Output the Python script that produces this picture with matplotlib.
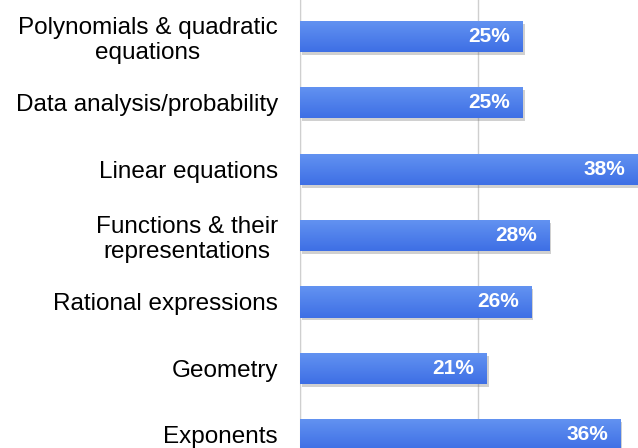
import numpy as np
import matplotlib
matplotlib.use('Agg')
import matplotlib.pyplot as plt
import matplotlib.patheffects as pe
from matplotlib.colors import LinearSegmentedColormap

categories = ['Polynomials & quadratic\nequations',
              'Data analysis/probability',
              'Linear equations',
              'Functions & their\nrepresentations',
              'Rational expressions',
              'Geometry',
              'Exponents']
values = [25, 25, 38, 28, 26, 21, 36]

plt.rcParams['font.family'] = ['Liberation Sans', 'DejaVu Sans']

fig = plt.figure(figsize=(6.38, 4.48), dpi=100)
ax = fig.add_axes([300 / 638, 0, 356 / 638, 1])

pos = np.arange(len(values))
h = 0.47
bars = ax.barh(pos, values, height=h, color='#4a7cea', zorder=2)

# gradient fill + soft shadow
cmap = LinearSegmentedColormap.from_list('bl', ['#6393f1', '#3e6fe5'])
grad = np.linspace(0, 1, 64).reshape(-1, 1)
for b in bars:
    b.set_path_effects([pe.SimplePatchShadow(offset=(1.5, -2), shadow_rgbFace='#666666', alpha=0.3),
                        pe.Normal()])
    x0, y0 = b.get_x(), b.get_y()
    im = ax.imshow(grad, cmap=cmap, aspect='auto', origin='upper',
                   extent=[x0, x0 + b.get_width(), y0 + b.get_height(), y0], zorder=3)
    im.set_clip_path(b)

for p, v in zip(pos, values):
    ax.annotate(f'{v}%', (v, p), xytext=(-9, 0), textcoords='offset points',
                ha='right', va='center', color='white', fontsize=15,
                fontweight='bold', zorder=4)

ax.set_xlim(0, 40)
ax.set_ylim(6.2, -0.55)
ax.set_xticks([0, 20, 40])
ax.set_xticklabels([])
ax.tick_params(axis='x', length=0)
ax.grid(axis='x', color='#cfcfcf', linewidth=1, zorder=0)
ax.set_yticks(pos)
ax.set_yticklabels(categories, fontsize=17.5, multialignment='center', linespacing=1.15)
ax.tick_params(axis='y', length=0, pad=16)
for s in ['top', 'right', 'bottom']:
    ax.spines[s].set_visible(False)
ax.spines['left'].set_color('#cfcfcf')

fig.savefig('out.png', dpi=100)
